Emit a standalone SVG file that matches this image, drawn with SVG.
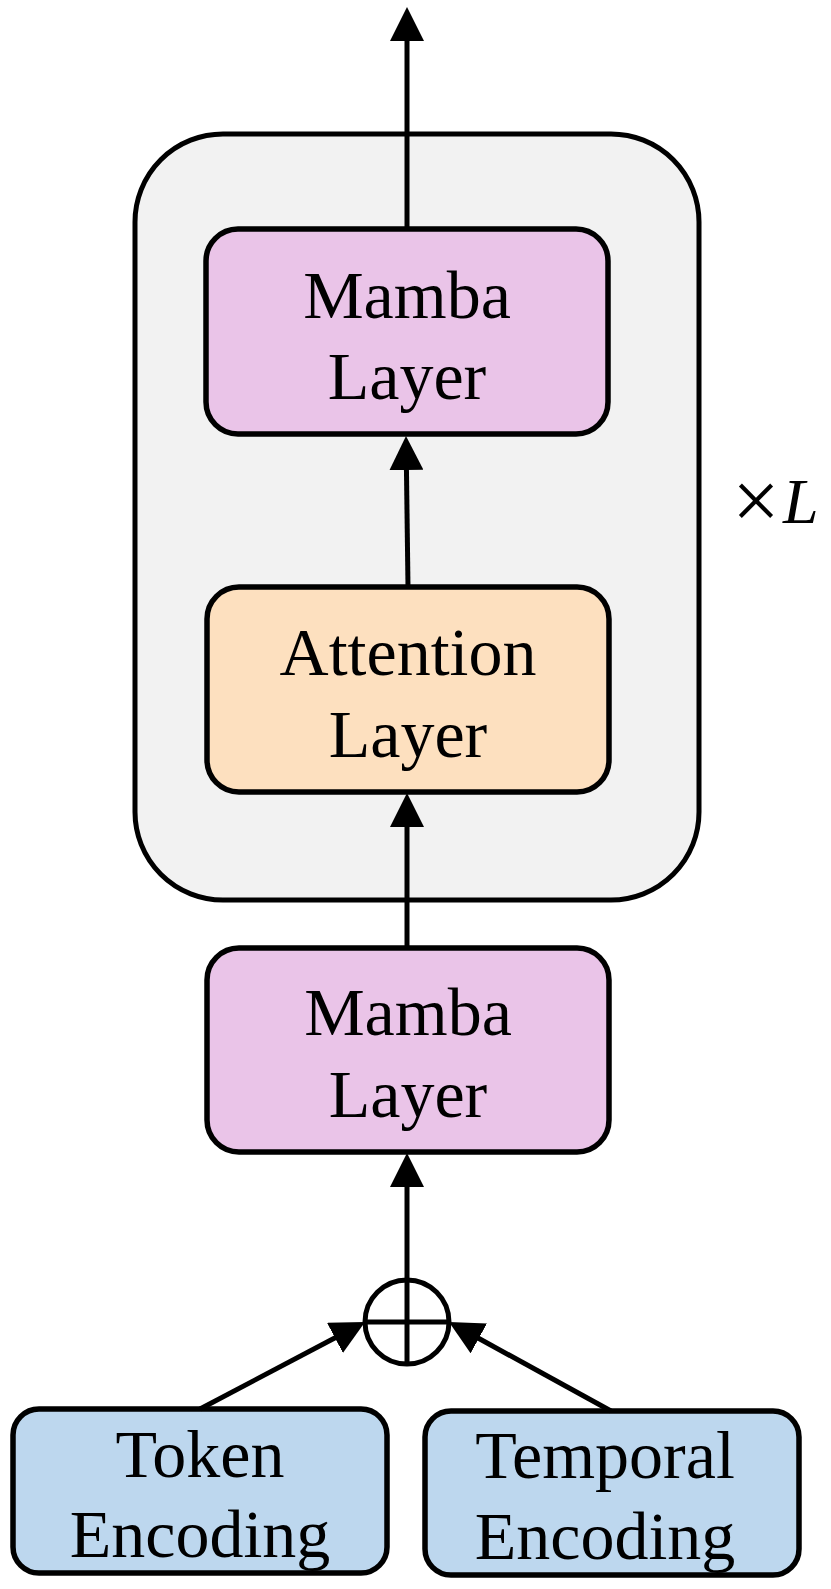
<svg xmlns="http://www.w3.org/2000/svg" width="831" height="1589" viewBox="0 0 831 1589">
<style>
.box{stroke:#000;stroke-width:5.5}
.mamba{fill:#EAC4E8}
.attn{fill:#FDE0BF}
.enc{fill:#BDD7EE}
.lbl{font-family:"Liberation Serif","Times New Roman",serif;font-size:68px;fill:#000;text-anchor:middle}
.conn{stroke:#000;stroke-width:5;fill:none;marker-end:url(#ah)}
</style>
<defs>
<marker id="ah" viewBox="0 0 34 34" refX="4" refY="17" markerWidth="34" markerHeight="34" markerUnits="userSpaceOnUse" orient="auto">
<path d="M0,0 L34,17 L0,34 z" fill="#000"/>
</marker>
</defs>
<rect width="831" height="1589" fill="#fff"/>
<g id="block">
<rect x="135" y="134" width="564" height="766" rx="88" ry="88" fill="#F2F2F2" stroke="#000" stroke-width="5"/>
<text x="756" y="529" font-family="'Liberation Serif','Times New Roman',serif" font-size="84" text-anchor="middle">×</text>
<text x="783" y="523" font-family="'Liberation Serif','Times New Roman',serif" font-size="64" font-style="italic">L</text>
</g>
<g id="mamba-top">
<rect class="box mamba" x="206" y="229" width="402" height="205" rx="32"/>
<text class="lbl" x="407" y="318">Mamba</text>
<text class="lbl" x="407" y="399">Layer</text>
</g>
<g id="attention">
<rect class="box attn" x="207" y="587" width="402" height="205" rx="32"/>
<text class="lbl" x="408" y="675">Attention</text>
<text class="lbl" x="408" y="757">Layer</text>
</g>
<g id="mamba-bottom">
<rect class="box mamba" x="207" y="948" width="402" height="204" rx="32"/>
<text class="lbl" x="408" y="1035">Mamba</text>
<text class="lbl" x="408" y="1117">Layer</text>
</g>
<g id="sum">
<circle cx="407" cy="1322" r="42" fill="#fff" stroke="#000" stroke-width="5"/>
<line x1="407" y1="1280" x2="407" y2="1364" stroke="#000" stroke-width="5"/>
<line x1="365" y1="1322" x2="449" y2="1322" stroke="#000" stroke-width="5"/>
</g>
<g id="token">
<rect class="box enc" x="13" y="1409" width="374" height="164" rx="26"/>
<text class="lbl" x="200" y="1477">Token</text>
<text class="lbl" x="200" y="1557">Encoding</text>
</g>
<g id="temporal">
<rect class="box enc" x="425" y="1411" width="374" height="164" rx="26"/>
<text class="lbl" x="605" y="1478">Temporal</text>
<text class="lbl" x="605" y="1559">Encoding</text>
</g>
<g id="connectors">
<line class="conn" x1="407" y1="229" x2="407" y2="37"/>
<line class="conn" x1="408" y1="587" x2="406.4" y2="466"/>
<line class="conn" x1="407" y1="948" x2="407" y2="823"/>
<line class="conn" x1="407" y1="1280" x2="407" y2="1183"/>
<line class="conn" x1="200" y1="1409" x2="338.5" y2="1336"/>
<line class="conn" x1="611" y1="1411" x2="475.3" y2="1336.5"/>
</g>
</svg>
